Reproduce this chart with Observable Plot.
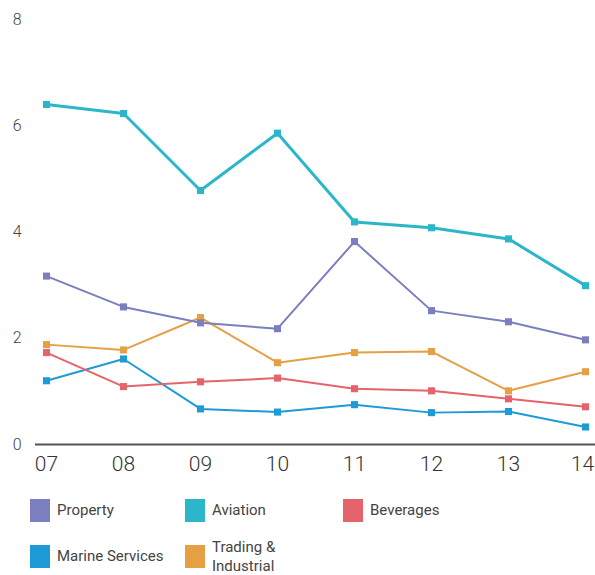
<!DOCTYPE html>
<html>
<head>
<meta charset="utf-8">
<script src="https://cdn.jsdelivr.net/npm/d3@7"></script>
<script src="https://cdn.jsdelivr.net/npm/@observablehq/plot@0.6"></script>
<style>
  html, body { margin: 0; padding: 0; background: #fff; }
  #wrap { position: relative; width: 595px; height: 575px; font-family: Roboto, "DejaVu Sans", sans-serif; }
  .leg { position: absolute; display: flex; align-items: center; font-size: 15px; color: #444; line-height: 19px; }
  .sw { width: 20px; height: 23px; margin-right: 7px; flex: none; }
</style>
</head>
<body>
<div id="wrap"></div>
<script>
const years = ["07", "08", "09", "10", "11", "12", "13", "14"];
const seriesNames = ["Property", "Aviation", "Beverages", "Marine Services", "Trading & Industrial"];
const colors = ["#7b7fbf", "#2bb7c9", "#e5646b", "#1e9ad6", "#e4a043"];
const property = [3.17, 2.59, 2.29, 2.18, 3.82, 2.52, 2.31, 1.97];
const aviation = [6.40, 6.23, 4.78, 5.86, 4.19, 4.08, 3.87, 2.99];
const beverages = [1.73, 1.09, 1.18, 1.25, 1.05, 1.01, 0.86, 0.71];
const marine = [1.20, 1.61, 0.67, 0.61, 0.75, 0.60, 0.62, 0.33];
const trading = [1.88, 1.78, 2.39, 1.54, 1.73, 1.75, 1.01, 1.37];
const yTicks = [0, 2, 4, 6, 8];

const valuesBySeries = [property, aviation, beverages, marine, trading];
const data = [];
seriesNames.forEach((s, i) => years.forEach((y, j) => data.push({series: s, year: y, value: valuesBySeries[i][j]})));
const order = ["Marine Services", "Beverages", "Trading & Industrial", "Property", "Aviation"];

const marks = [
  Plot.ruleY([0], {stroke: "#555", strokeWidth: 2, insetLeft: -10, insetRight: -10}),
  Plot.axisY({ticks: yTicks, tickSize: 0, tickPadding: 24, fontSize: 16, fontWeight: 300, textAnchor: "end", fill: "#444", label: null}),
  Plot.axisX({tickSize: 0, tickPadding: 12, fontSize: 21, fontWeight: 300, label: null, fill: "#333"})
];
order.forEach(s => {
  const d = data.filter(r => r.series === s);
  const sw = s === "Aviation" ? 3 : 2;
  marks.push(Plot.line(d, {x: "year", y: "value", stroke: "series", strokeWidth: sw}));
  marks.push(Plot.dot(d, {x: "year", y: "value", fill: "series", symbol: "square", r: 4}));
});

const chart = Plot.plot({
  width: 595,
  height: 484,
  marginLeft: 45,
  marginRight: 10,
  marginTop: 19,
  marginBottom: 40,
  style: {fontFamily: "Roboto, 'DejaVu Sans', sans-serif", color: "#444", background: "white", overflow: "visible"},
  x: {type: "point", domain: years, padding: 0},
  y: {domain: [0, 8]},
  color: {domain: seriesNames, range: colors},
  marks
});
const wrap = document.getElementById("wrap");
wrap.appendChild(chart);
// nudge the last x tick label inward so it is not clipped at the edge
const xt = d3.select(chart).selectAll("g[aria-label='x-axis tick label'] text").nodes();
if (xt.length) d3.select(xt[xt.length - 1]).attr("dx", -3);

const legPos = [
  {x: 30, y: 499}, {x: 185, y: 499}, {x: 343, y: 499},
  {x: 30, y: 545}, {x: 185, y: 545}
];
const legLabels = ["Property", "Aviation", "Beverages", "Marine Services", "Trading &<br>Industrial"];
seriesNames.forEach((s, i) => {
  const el = document.createElement("div");
  el.className = "leg";
  el.style.left = legPos[i].x + "px";
  el.style.top = legPos[i].y + "px";
  el.style.height = "23px";
  el.innerHTML = `<div class="sw" style="background:${colors[i]}"></div><div>${legLabels[i]}</div>`;
  wrap.appendChild(el);
});
</script>
</body>
</html>
